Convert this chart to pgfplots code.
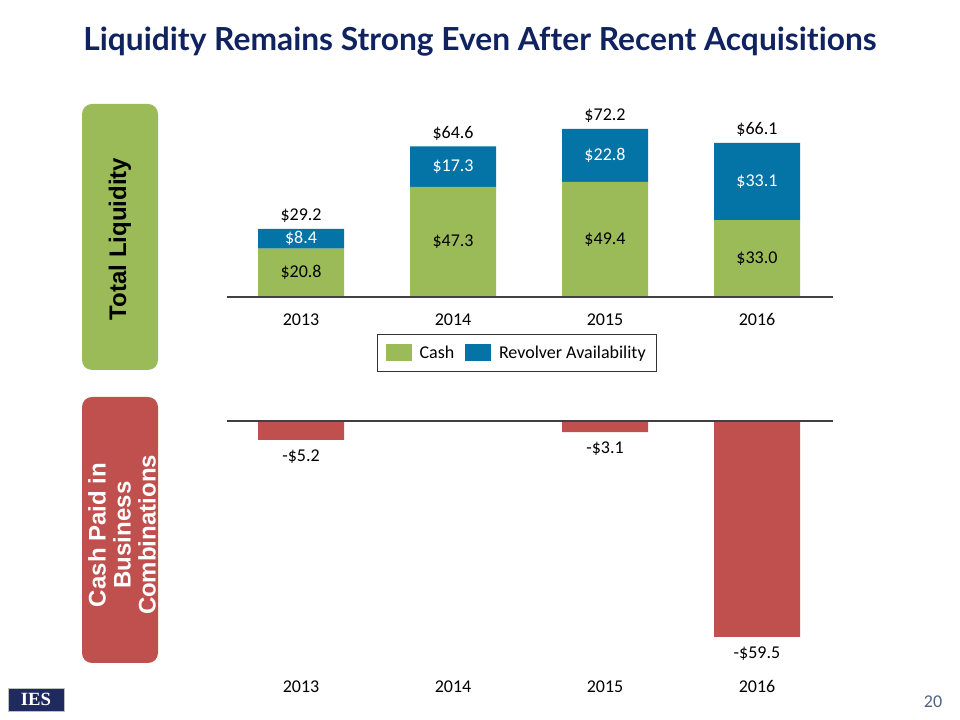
\documentclass[border=0pt]{standalone}
\usepackage{pgfplots}
\pgfplotsset{compat=1.18}
\usepackage{fontspec}
\setmainfont{Carlito}
\newfontfamily\titlefont[Ligatures=NoCommon]{Lato}
\newfontfamily\arialfont{Liberation Sans}
\newfontfamily\seriffont{Liberation Serif}
\definecolor{cashgreen}{RGB}{155,187,89}
\definecolor{revblue}{RGB}{4,115,166}
\definecolor{acqred}{RGB}{192,80,77}
\definecolor{titleblue}{RGB}{16,34,96}
\definecolor{logoblue}{RGB}{31,42,94}
\definecolor{pagegray}{RGB}{80,100,128}
\tikzset{lbl/.style={font=\fontsize{13.5}{16}\selectfont}}
\pgfplotsset{topgeom/.style={at={(170.25pt,317.25pt)}, anchor=south west, scale only axis,
  width=454.5pt, height=139.8pt, xmin=-0.487, xmax=3.5, ymin=0, ymax=80, clip=false}}
\begin{document}
\begin{tikzpicture}
\begin{scope}[x=0.75pt,y=0.75pt]
\path[use as bounding box, fill=white] (0,0) rectangle (960,720);
\node[font=\titlefont\bfseries\fontsize{23.8}{28}\selectfont, text=titleblue] at (480,678) {Liquidity Remains Strong Even After Recent Acquisitions};
% side boxes
\fill[cashgreen, rounded corners=7.5pt] (82,350) rectangle (158,616);
\node[rotate=90, font=\arialfont\bfseries\fontsize{18}{20}\selectfont] at (120,481) {Total Liquidity};
\fill[acqred, rounded corners=7.5pt] (82,57) rectangle (158,323);
\node[rotate=90, align=center, text=white, font=\arialfont\bfseries\fontsize{18}{18.75}\selectfont] at (122,185) {Cash Paid in\\Business\\Combinations};
% logo and page number
\fill[logoblue] (8,9) rectangle (64,32);
\draw[gray!50, line width=0.5pt] (8,9) rectangle (64,32);
\node[text=white, font=\seriffont\bfseries\fontsize{14}{16}\selectfont] at (36,20.5) {IES};
\node[text=pagegray, font=\fontsize{13.5}{16}\selectfont] at (933,18) {20};
\end{scope}
% top axis
\begin{axis}[topgeom, ybar stacked, bar width=64.5pt,
  axis line style={draw=none}, ytick=\empty,
  xtick={0,1,2,3}, xticklabels={2013,2014,2015,2016},
  major tick length=0pt, typeset ticklabels with strut,
  xticklabel style={anchor=center, yshift=-18pt},
  tick label style={font=\fontsize{13.5}{16}\selectfont},
  legend style={at={(0.4785,-0.30)}, anchor=center, legend columns=2,
    draw=black!80, line width=0.75pt, font=\fontsize{13.5}{16}\selectfont,
    /tikz/every odd column/.append style={column sep=4pt},
    /tikz/every even column/.append style={column sep=6pt},
    inner xsep=6pt, inner ysep=6.5pt},
]
\addplot[fill=cashgreen, draw=none, legend image code/.code={\fill[cashgreen] (0pt,-6.4pt) rectangle (19.5pt,6.4pt);}]
  coordinates {(0,20.8) (1,47.3) (2,49.4) (3,33.0)};
\addlegendentry{Cash}
\addplot[fill=revblue, draw=none, legend image code/.code={\fill[revblue] (0pt,-6.4pt) rectangle (19.5pt,6.4pt);}]
  coordinates {(0,8.4) (1,17.3) (2,22.8) (3,33.1)};
\addlegendentry{Revolver Availability}
\end{axis}
% top labels overlay
\begin{axis}[topgeom, hide axis]
\draw[black!75, line width=1.5pt] (axis cs:-0.487,0) -- (axis cs:3.5,0);
\node[lbl] at (axis cs:0,10.4) {\$20.8};
\node[lbl] at (axis cs:1,23.65) {\$47.3};
\node[lbl] at (axis cs:2,24.7) {\$49.4};
\node[lbl] at (axis cs:3,16.5) {\$33.0};
\node[lbl,text=white] at (axis cs:0,25.0) {\$8.4};
\node[lbl,text=white] at (axis cs:1,55.95) {\$17.3};
\node[lbl,text=white] at (axis cs:2,60.8) {\$22.8};
\node[lbl,text=white] at (axis cs:3,49.55) {\$33.1};
\node[lbl,anchor=south,yshift=1pt] at (axis cs:0,29.2) {\$29.2};
\node[lbl,anchor=south,yshift=1pt] at (axis cs:1,64.6) {\$64.6};
\node[lbl,anchor=south,yshift=1pt] at (axis cs:2,72.2) {\$72.2};
\node[lbl,anchor=south,yshift=1pt] at (axis cs:3,66.1) {\$66.1};
\end{axis}
% bottom axis
\begin{axis}[at={(170.25pt,224.25pt)}, anchor=north west, scale only axis,
  width=454.5pt, height=182.1pt, ybar, bar width=64.5pt,
  xmin=-0.487, xmax=3.5, ymin=-66.9, ymax=0,
  axis line style={draw=none}, ytick=\empty,
  xtick={0,1,2,3}, xticklabels={2013,2014,2015,2016},
  major tick length=0pt, typeset ticklabels with strut,
  xticklabel style={anchor=center, yshift=-18pt},
  tick label style={font=\fontsize{13.5}{16}\selectfont},
  clip=false,
]
\addplot[fill=acqred, draw=none] coordinates {(0,-5.2) (2,-3.1) (3,-59.5)};
\draw[black!75, line width=1pt] (axis cs:-0.487,0) -- (axis cs:3.5,0);
\node[lbl,anchor=north,yshift=-4pt] at (axis cs:0,-5.2) {-\$5.2};
\node[lbl,anchor=north,yshift=-4pt] at (axis cs:2,-3.1) {-\$3.1};
\node[lbl,anchor=north,yshift=-4pt] at (axis cs:3,-59.5) {-\$59.5};
\end{axis}
\end{tikzpicture}
\end{document}
